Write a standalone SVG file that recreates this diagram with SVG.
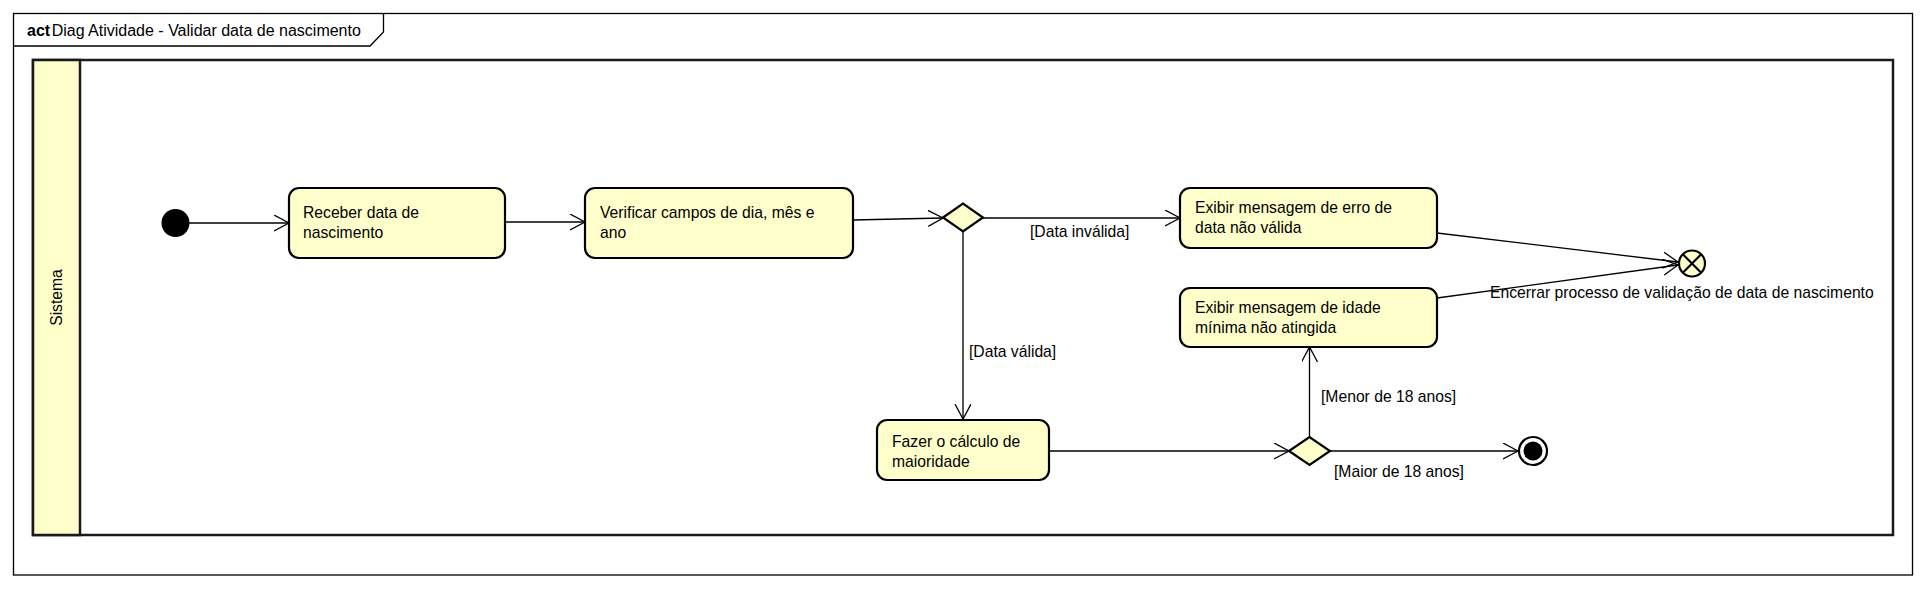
<svg xmlns="http://www.w3.org/2000/svg" width="1926" height="589" viewBox="0 0 1926 589">
<style>
text{font-family:"Liberation Sans",Arial,sans-serif;font-size:15.7px;fill:#000}
.act{fill:#FFFFCC;stroke:#000;stroke-width:2.2}
.dec{fill:#FFFFCC;stroke:#000;stroke-width:2.2}
.edge{fill:none;stroke:#000;stroke-width:1.3}
</style>
<defs>
<marker id="arr" markerWidth="18" markerHeight="18" refX="15" refY="8" orient="auto" markerUnits="userSpaceOnUse">
<path d="M0,0 L15,8 L0,16" fill="none" stroke="#000" stroke-width="1.3"/>
</marker>
</defs>
<rect width="1926" height="589" fill="#fff"/>
<g id="frame">
<rect x="13.5" y="13.5" width="1899" height="561.5" fill="#fff" stroke="#000" stroke-width="1.3"/>
<path d="M13.5,46 L370,46 L383.5,32 L383.5,13.5" fill="none" stroke="#000" stroke-width="1.3"/>
<text x="27" y="36" style="font-size:16px"><tspan font-weight="bold">act</tspan><tspan dx="1.5">Diag Atividade - Validar data de nascimento</tspan></text>
</g>
<g id="lane">
<rect x="33" y="60" width="1860" height="475" fill="#fff" stroke="#1a1a1a" stroke-width="2.5"/>
<rect x="33" y="60" width="47" height="475" fill="#FFFFCC" stroke="#1a1a1a" stroke-width="2.5"/>
<text x="0" y="0" transform="translate(62,297.5) rotate(-90)" text-anchor="middle">Sistema</text>
</g>
<g id="connectors">
<line class="edge" x1="189" y1="223" x2="289" y2="223" marker-end="url(#arr)"/>
<line class="edge" x1="505" y1="222" x2="585" y2="222" marker-end="url(#arr)"/>
<line class="edge" x1="853" y1="220" x2="943" y2="218" marker-end="url(#arr)"/>
<line class="edge" x1="983" y1="218" x2="1180" y2="218" marker-end="url(#arr)"/>
<text x="1030" y="237">[Data inválida]</text>
<line class="edge" x1="963" y1="231" x2="963" y2="419" marker-end="url(#arr)"/>
<text x="969" y="357">[Data válida]</text>
<line class="edge" x1="1049" y1="451" x2="1289" y2="451" marker-end="url(#arr)"/>
<line class="edge" x1="1309.5" y1="437" x2="1309.5" y2="347" marker-end="url(#arr)"/>
<text x="1321" y="402">[Menor de 18 anos]</text>
<line class="edge" x1="1330" y1="451" x2="1518" y2="451" marker-end="url(#arr)"/>
<text x="1334" y="477">[Maior de 18 anos]</text>
<line class="edge" x1="1437" y1="233" x2="1678" y2="262" marker-end="url(#arr)"/>
<line class="edge" x1="1437" y1="298" x2="1678" y2="265" marker-end="url(#arr)"/>
</g>
<g id="initial">
<circle cx="175.5" cy="223" r="14" fill="#000"/>
</g>
<g id="a1">
<rect class="act" x="289" y="188" width="216" height="70" rx="10"/>
<text x="303" y="218">Receber data de</text>
<text x="303" y="238">nascimento</text>
</g>
<g id="a2">
<rect class="act" x="585" y="188" width="268" height="70" rx="10"/>
<text x="600" y="218">Verificar campos de dia, mês e</text>
<text x="600" y="238">ano</text>
</g>
<g id="d1">
<path class="dec" d="M943,217.5 L963,203.5 L983,217.5 L963,231.5 Z"/>
</g>
<g id="a3">
<rect class="act" x="1180" y="188" width="257" height="60" rx="10"/>
<text x="1195" y="213">Exibir mensagem de erro de</text>
<text x="1195" y="233">data não válida</text>
</g>
<g id="a4">
<rect class="act" x="1180" y="288" width="257" height="59" rx="10"/>
<text x="1195" y="313">Exibir mensagem de idade</text>
<text x="1195" y="333">mínima não atingida</text>
</g>
<g id="a5">
<rect class="act" x="877" y="420" width="172" height="60" rx="10"/>
<text x="892" y="447">Fazer o cálculo de</text>
<text x="892" y="467">maioridade</text>
</g>
<g id="d2">
<path class="dec" d="M1289,451 L1309.5,437 L1330,451 L1309.5,465 Z"/>
</g>
<g id="flowfinal">
<circle cx="1692" cy="263.5" r="13" fill="#FFFFCC" stroke="#000" stroke-width="2.2"/>
<path d="M1682.8,254.3 L1701.2,272.7 M1701.2,254.3 L1682.8,272.7" stroke="#000" stroke-width="2.2"/>
<text x="1490" y="298">Encerrar processo de validação de data de nascimento</text>
</g>
<g id="final">
<circle cx="1533" cy="451" r="14" fill="#fff" stroke="#000" stroke-width="2.2"/>
<circle cx="1533" cy="451" r="9.5" fill="#000"/>
</g>
</svg>
